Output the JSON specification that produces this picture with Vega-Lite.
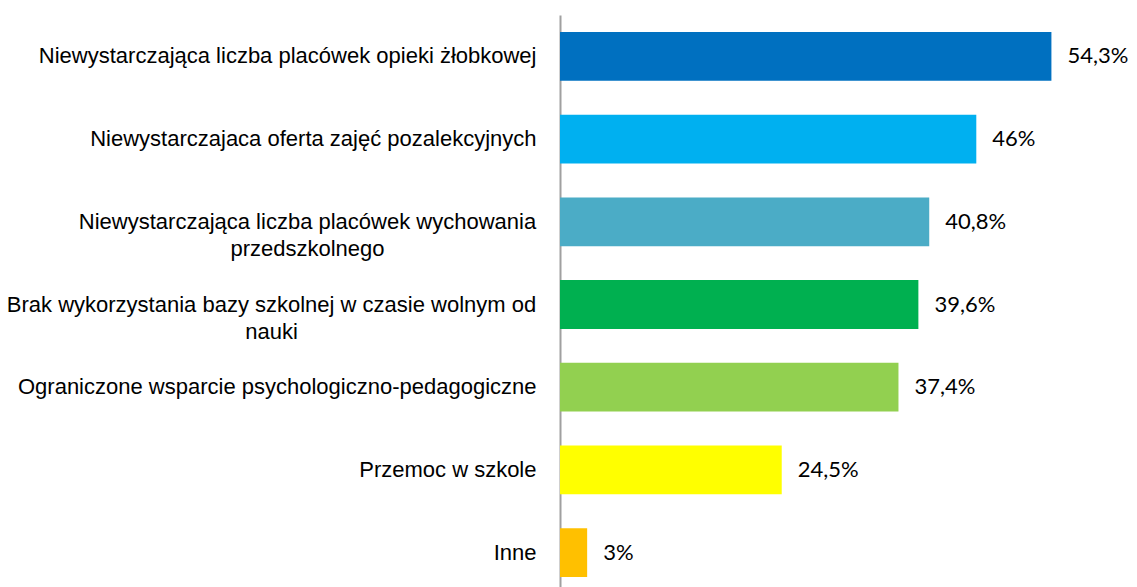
{
  "$schema": "https://vega.github.io/schema/vega-lite/v6.json",
  "autosize": "none",
  "padding": {"left": 560, "top": 15, "right": 40, "bottom": 0},
  "width": 543,
  "height": 579,
  "background": "white",
  "data": {"values": [
    {"kategoria": "Niewystarczająca  liczba placówek opieki żłobkowej", "wartosc": 54.3, "etykieta": "54,3%", "kolor": "#0070C0"},
    {"kategoria": "Niewystarczajaca oferta zajęć pozalekcyjnych", "wartosc": 46, "etykieta": "46%", "kolor": "#00B0F0"},
    {"kategoria": "Niewystarczająca liczba placówek wychowania|przedszkolnego", "wartosc": 40.8, "etykieta": "40,8%", "kolor": "#4BACC6"},
    {"kategoria": "Brak wykorzystania bazy szkolnej w czasie wolnym od|nauki", "wartosc": 39.6, "etykieta": "39,6%", "kolor": "#00B050"},
    {"kategoria": "Ograniczone wsparcie psychologiczno-pedagogiczne", "wartosc": 37.4, "etykieta": "37,4%", "kolor": "#92D050"},
    {"kategoria": "Przemoc w szkole", "wartosc": 24.5, "etykieta": "24,5%", "kolor": "#FFFF00"},
    {"kategoria": "Inne", "wartosc": 3, "etykieta": "3%", "kolor": "#FFC000"}
  ]},
  "encoding": {
    "y": {
      "field": "kategoria", "type": "nominal", "sort": null, "title": null,
      "scale": {"paddingInner": 0.41, "paddingOuter": 0.205},
      "axis": {
        "labelExpr": "split(datum.value, '|')",
        "labelFont": "Liberation Sans",
        "labelFontSize": 22,
        "labelColor": "#000000",
        "labelAlign": {"condition": {"test": "indexof(datum.value, '|') >= 0", "value": "center"}, "value": "right"},
        "labelPadding": {"condition": [
          {"test": "indexof(datum.value, 'wychowania') >= 0", "value": 253},
          {"test": "indexof(datum.value, 'Brak') >= 0", "value": 289}
        ], "value": 24},
        "labelLimit": 0,
        "labelLineHeight": 27,
        "ticks": false,
        "domain": true,
        "domainColor": "#A0A0A0",
        "domainWidth": 2,
        "grid": false
      }
    },
    "x": {
      "field": "wartosc", "type": "quantitative",
      "scale": {"domain": [0, 60], "nice": false},
      "axis": null
    }
  },
  "layer": [
    {"mark": {"type": "bar"}, "encoding": {"color": {"field": "kolor", "type": "nominal", "scale": null}}},
    {"mark": {"type": "text", "align": "left", "baseline": "middle", "dx": 16, "font": "Lato", "fontSize": 22, "color": "#000000"},
     "encoding": {"text": {"field": "etykieta"}}}
  ],
  "config": {"view": {"stroke": null}}
}
